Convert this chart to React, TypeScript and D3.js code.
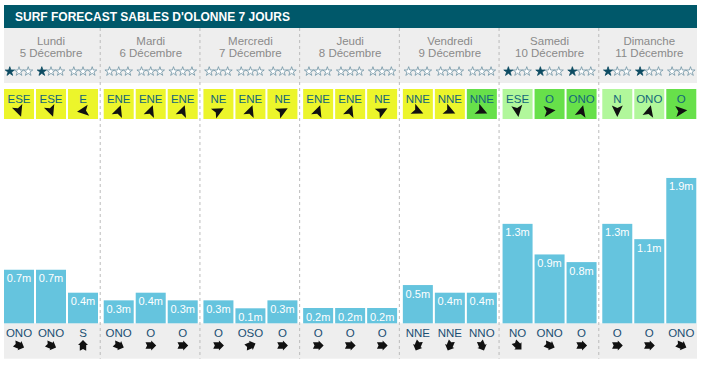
import React from "react";
import * as d3 from "d3";

const title = "SURF FORECAST SABLES D'OLONNE 7 JOURS";
const dayNames = ["Lundi", "Mardi", "Mercredi", "Jeudi", "Vendredi", "Samedi", "Dimanche"];
const dayDates = ["5 Décembre", "6 Décembre", "7 Décembre", "8 Décembre", "9 Décembre", "10 Décembre", "11 Décembre"];
const slots = [0, 1, 2];

const stars = [
  [1, 1, 0], [0, 0, 0], [0, 0, 0], [0, 0, 0], [0, 0, 0], [1, 1, 1], [1, 1, 0],
];
const windDirs = [
  ["ESE", "ESE", "E"], ["ENE", "ENE", "ENE"], ["NE", "ENE", "NE"], ["ENE", "ENE", "NE"],
  ["NNE", "NNE", "NNE"], ["ESE", "O", "ONO"], ["N", "ONO", "O"],
];
// angle (deg, clockwise from up) the wind arrow points to
const windAngles = [
  [160, 160, 262], [20, 20, 20], [62, 20, 62], [20, 20, 62],
  [115, 115, 115], [172, 84, 15], [180, 15, 84],
];
// wind strength level: 0 = yellow, 1 = light green, 2 = green
const windLevel = [
  [0, 0, 0], [0, 0, 0], [0, 0, 0], [0, 0, 0], [0, 0, 2], [1, 2, 2], [1, 1, 2],
];
const waveHeights = [
  [0.7, 0.7, 0.4], [0.3, 0.4, 0.3], [0.3, 0.1, 0.3], [0.2, 0.2, 0.2],
  [0.5, 0.4, 0.4], [1.3, 0.9, 0.8], [1.3, 1.1, 1.9],
];
const swellDirs = [
  ["ONO", "ONO", "S"], ["ONO", "O", "O"], ["O", "OSO", "O"], ["O", "O", "O"],
  ["NNE", "NNE", "NNO"], ["NO", "ONO", "O"], ["O", "O", "ONO"],
];

const compass: Record<string, number> = {
  N: 0, NNE: 22.5, NE: 45, ENE: 67.5, E: 90, ESE: 112.5, SE: 135, SSE: 157.5,
  S: 180, SSO: 202.5, SO: 225, OSO: 247.5, O: 270, ONO: 292.5, NO: 315, NNO: 337.5,
};

const windColors = ["#ecf52b", "#b1f79b", "#67e04a"];

const W = 704, H = 367;
const left = 4, right = 698;
const headerTop = 5, headerBottom = 28;
const greyBottom = 83;
const boxTop = 89, boxBottom = 119;
const baseY = 323.3;
const bottomEnd = 358.7;

const windArrow = "M0,-6 L5.5,5.5 L0,3 L-5.5,5.5 Z";
const swellArrow = "M0,-5.5 L5,-0.5 L3.2,-0.5 L3.2,5.2 L0,3.6 L-3.2,5.2 L-3.2,-0.5 L-5,-0.5 Z";

export default function App() {
  const xDay = d3.scaleBand<number>().domain(d3.range(7)).range([0, right]).padding(0);
  const xSlot = d3.scaleBand<number>().domain(slots).range([4, 98]).paddingInner(0.0625).paddingOuter(0);
  const y = d3.scaleLinear().domain([0, 2]).range([baseY, baseY - 153]);
  const minH = 15;
  const starSym = d3.symbol().type(d3.symbolStar).size(26)();
  const font = "Arial, 'Liberation Sans', Helvetica, sans-serif";

  return (
    <svg width={W} height={H} style={{ position: "absolute", left: 0, top: 0 }} fontFamily={font}>
      <rect x={0} y={0} width={W} height={H} fill="#fff" />
      <rect x={left} y={headerTop} width={right - left - 1} height={headerBottom - headerTop} fill="#00586a" />
      <text x={15} y={21} fill="#fff" fontSize={12} fontWeight="bold">{title}</text>
      <rect x={left} y={headerBottom} width={right - left - 1} height={greyBottom - headerBottom} fill="#eeeeee" />
      <rect x={left} y={baseY} width={right - left - 1} height={bottomEnd - baseY} fill="#eeeeee" />
      {d3.range(1, 7).map((d) => (
        <line key={"div" + d} x1={xDay(d)! + 0.5} x2={xDay(d)! + 0.5} y1={headerBottom} y2={bottomEnd}
          stroke="#bbbbbb" strokeWidth={1} strokeDasharray="3,3" />
      ))}
      {d3.range(7).map((d) => {
        const x0 = xDay(d)!;
        const cx = x0 + 4 + 94 / 2;
        return (
          <g key={"day" + d}>
            <text x={cx} y={45} textAnchor="middle" fontSize={11.5} fill="#8a8a8a">{dayNames[d]}</text>
            <text x={cx} y={57} textAnchor="middle" fontSize={11.5} fill="#8a8a8a">{dayDates[d]}</text>
            {slots.map((s) => {
              const bx = x0 + xSlot(s)!;
              const bw = xSlot.bandwidth();
              const bc = bx + bw / 2;
              const h = waveHeights[d][s];
              const top = Math.min(y(h), baseY - minH);
              return (
                <g key={"s" + s}>
                  {[0, 1, 2].map((k) => (
                    <path key={"st" + k} d={starSym!} transform={`translate(${bc + (k - 1) * 9.2},${71.5})`}
                      fill={k < stars[d][s] ? "#0d4b62" : "#ffffff"}
                      stroke={k < stars[d][s] ? "#0d4b62" : "#6f93a3"} strokeWidth={0.8} />
                  ))}
                  <rect x={bx} y={boxTop} width={bw} height={boxBottom - boxTop} fill={windColors[windLevel[d][s]]} />
                  <text x={bc} y={102.5} textAnchor="middle" fontSize={11.5} fill="#13667a">{windDirs[d][s]}</text>
                  <path d={windArrow} transform={`translate(${bc},${111}) rotate(${windAngles[d][s]})`} fill="#111" />
                  <rect x={bx} y={top} width={bw} height={baseY - top} fill="#65c4de" />
                  <text x={bc} y={top + 12.5} textAnchor="middle" fontSize={11} fill="#ffffff">{h.toFixed(1) + "m"}</text>
                  <text x={bc} y={337} textAnchor="middle" fontSize={11.5} fill="#1a4f72">{swellDirs[d][s]}</text>
                  <path d={swellArrow} transform={`translate(${bc},${345.5}) rotate(${(compass[swellDirs[d][s]] + 180) % 360})`} fill="#111" />
                </g>
              );
            })}
          </g>
        );
      })}
    </svg>
  );
}
